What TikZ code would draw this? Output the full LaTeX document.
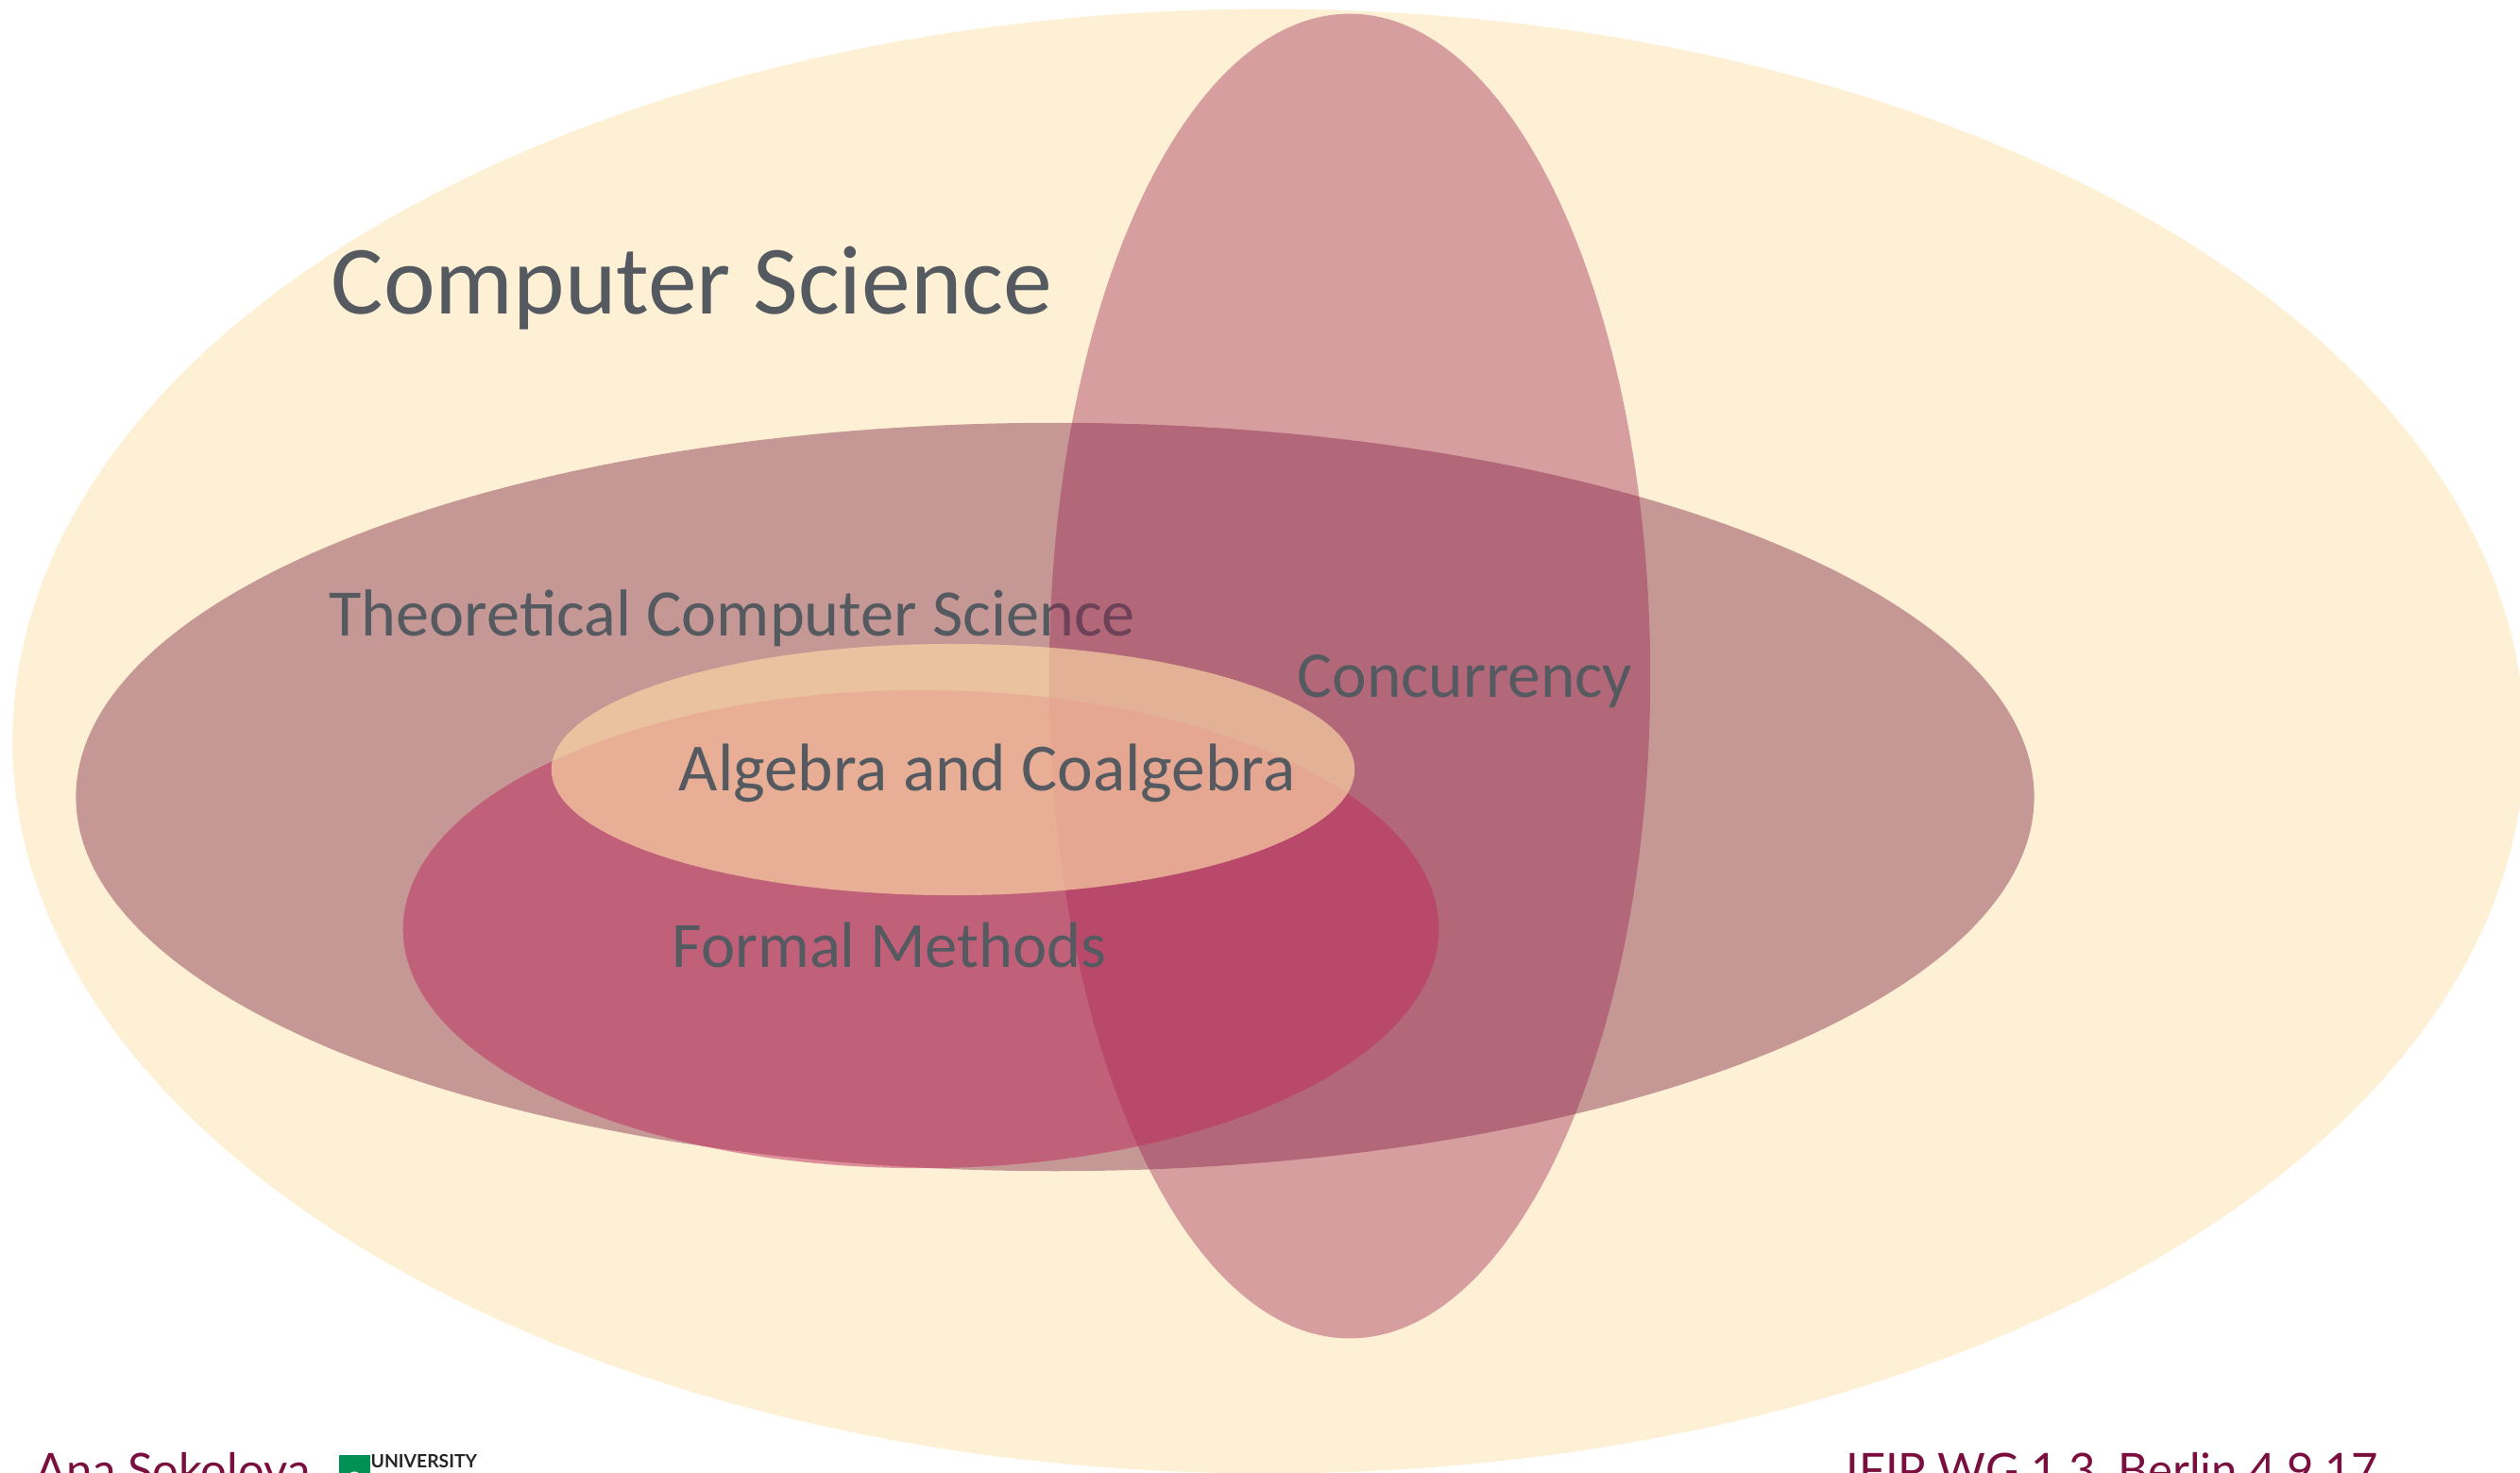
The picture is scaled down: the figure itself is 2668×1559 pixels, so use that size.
\documentclass[tikz,border=0pt]{standalone}
\usepackage{fontspec}
\usepackage{xcolor}
\setmainfont{Carlito}
\newfontfamily\footfont{Lato}
\usetikzlibrary{positioning,shapes.geometric}
\definecolor{creamfill}{HTML}{FEF0D4}
\definecolor{tcsfill}{RGB}{142,66,88}
\definecolor{concfill}{RGB}{152,27,76}
\definecolor{formalfill}{RGB}{190,44,95}
\definecolor{algfill}{RGB}{254,218,166}
\definecolor{labelgray}{HTML}{545A60}
\definecolor{footmaroon}{HTML}{7A0F3F}
\definecolor{logogreen}{HTML}{009254}

\begin{document}
\begin{tikzpicture}[
    x=0.01cm, y=-0.01cm,
    area/.style={ellipse, inner sep=0pt, outer sep=0pt},
    arealabel/.style={anchor=base west, inner sep=0pt, text=labelgray},
    footer/.style={anchor=base west, inner sep=0pt, text=footmaroon, font=\fontsize{13.95}{14}\footfont}
]
\clip (0,0) rectangle (2668,1559);

% Areas
\node[area, fill=creamfill, minimum width=26.58cm, minimum height=15.5cm] (cs) at (1343,785) {};
\node[area, fill=tcsfill, fill opacity=0.5, minimum width=20.72cm, minimum height=7.92cm] (tcs) at (1117,844) {};

% Label below the concurrency area
\node[arealabel, font=\fontsize{20}{20}\selectfont] (tcslabel) at (348,673) {Theoretical Computer Science};

\node[area, fill=concfill, fill opacity=0.38, minimum width=6.36cm, minimum height=14.02cm] (conc) at (1429,716) {};
\node[area, fill=formalfill, fill opacity=0.5, minimum width=10.96cm, minimum height=5.06cm] (formal) at (975,984) {};
\node[area, fill=algfill, fill opacity=0.65, minimum width=8.5cm, minimum height=2.66cm] (alg) at (1009,815) {};

% Labels
\node[arealabel, font=\fontsize{29.5}{30}\selectfont] (cslabel) at (350,332) {Computer Science};
\node[arealabel, font=\fontsize{19.7}{20}\selectfont] (conclabel) at (1373,738) {Concurrency};
\node[arealabel, font=\fontsize{20.3}{21}\selectfont] (alglabel) at (718,837) {Algebra and Coalgebra};
\node[arealabel, font=\fontsize{19.5}{20}\selectfont] (formallabel) at (711,1024) {Formal Methods};

% Footer
\node[footer] (author) at (37,1574) {Ana Sokolova};
\node[footer] (event) at (1954,1574) {IFIP WG 1.3, Berlin 4.9.17};
\node[fill=logogreen, inner sep=0pt, minimum width=0.33cm, minimum height=0.3cm, anchor=north west] (logo) at (358,1540) {};
\node[circle, fill=white, inner sep=0pt, minimum size=0.14cm, anchor=north, yshift=-0.02cm] (logonotch) at (logo.center) {};
\node[anchor=north west, inner sep=0pt, font=\fontsize{5.5}{6}\footfont\bfseries, text=black!85] (uni) at (392,1540) {UNIVERSITY};

\end{tikzpicture}
\end{document}
